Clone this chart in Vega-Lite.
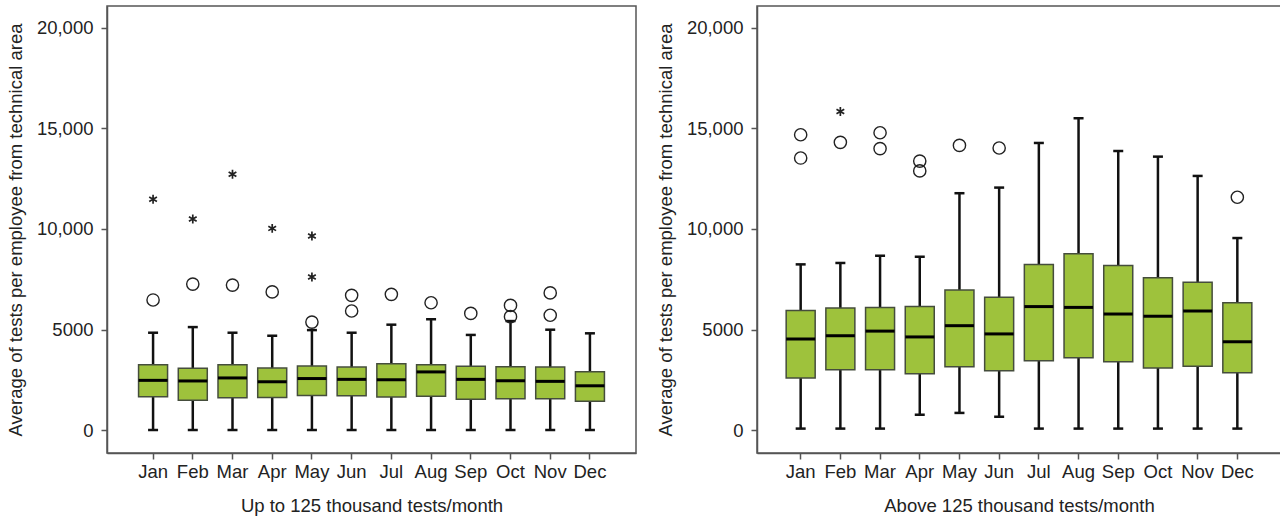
{
  "$schema": "https://vega.github.io/schema/vega-lite/v6.json",
  "padding": {"left": 5, "top": 5, "right": 0, "bottom": 0},
  "spacing": 18,
  "config": {
    "view": {"stroke": "#555", "strokeWidth": 1.5},
    "font": "Liberation Sans",
    "tick": {"opacity": 1},
    "axis": {
      "grid": false, "domainColor": "#555", "domainWidth": 1.5, "tickColor": "#555", "tickWidth": 1.5, "tickSize": 6,
      "labelFont": "Liberation Sans", "labelFontSize": 18.5, "labelColor": "#222",
      "titleFont": "Liberation Sans", "titleFontSize": 18.5, "titleFontWeight": "normal", "titleColor": "#222"
    }
  },
  "datasets": {
    "boxes": [
      {"panel": "low", "month": "Jan", "low": 0, "q1": 1660, "median": 2470, "q3": 3250, "high": 4840},
      {"panel": "low", "month": "Feb", "low": 0, "q1": 1480, "median": 2440, "q3": 3070, "high": 5120},
      {"panel": "low", "month": "Mar", "low": 0, "q1": 1610, "median": 2590, "q3": 3250, "high": 4840},
      {"panel": "low", "month": "Apr", "low": 0, "q1": 1620, "median": 2400, "q3": 3080, "high": 4690},
      {"panel": "low", "month": "May", "low": 0, "q1": 1720, "median": 2560, "q3": 3180, "high": 4970},
      {"panel": "low", "month": "Jun", "low": 0, "q1": 1710, "median": 2520, "q3": 3130, "high": 4840},
      {"panel": "low", "month": "Jul", "low": 0, "q1": 1640, "median": 2500, "q3": 3300, "high": 5240},
      {"panel": "low", "month": "Aug", "low": 0, "q1": 1680, "median": 2890, "q3": 3250, "high": 5510},
      {"panel": "low", "month": "Sep", "low": 0, "q1": 1530, "median": 2520, "q3": 3170, "high": 4730},
      {"panel": "low", "month": "Oct", "low": 0, "q1": 1560, "median": 2450, "q3": 3150, "high": 5420},
      {"panel": "low", "month": "Nov", "low": 0, "q1": 1560, "median": 2420, "q3": 3130, "high": 4990},
      {"panel": "low", "month": "Dec", "low": 0, "q1": 1430, "median": 2200, "q3": 2900, "high": 4810},
      {"panel": "high", "month": "Jan", "low": 70, "q1": 2590, "median": 4530, "q3": 5950, "high": 8240},
      {"panel": "high", "month": "Feb", "low": 70, "q1": 3000, "median": 4690, "q3": 6070, "high": 8310},
      {"panel": "high", "month": "Mar", "low": 70, "q1": 3000, "median": 4920, "q3": 6100, "high": 8670},
      {"panel": "high", "month": "Apr", "low": 760, "q1": 2800, "median": 4630, "q3": 6150, "high": 8620},
      {"panel": "high", "month": "May", "low": 850, "q1": 3150, "median": 5190, "q3": 6970, "high": 11780},
      {"panel": "high", "month": "Jun", "low": 660, "q1": 2950, "median": 4780, "q3": 6600, "high": 12060},
      {"panel": "high", "month": "Jul", "low": 70, "q1": 3450, "median": 6140, "q3": 8230, "high": 14280},
      {"panel": "high", "month": "Aug", "low": 70, "q1": 3600, "median": 6100, "q3": 8770, "high": 15510},
      {"panel": "high", "month": "Sep", "low": 70, "q1": 3400, "median": 5770, "q3": 8190, "high": 13880},
      {"panel": "high", "month": "Oct", "low": 70, "q1": 3080, "median": 5660, "q3": 7580, "high": 13600},
      {"panel": "high", "month": "Nov", "low": 70, "q1": 3170, "median": 5920, "q3": 7350, "high": 12640},
      {"panel": "high", "month": "Dec", "low": 70, "q1": 2850, "median": 4390, "q3": 6330, "high": 9550}
    ],
    "outliers": [
      {"panel": "low", "month": "Jan", "kind": "circle", "value": 6470},
      {"panel": "low", "month": "Feb", "kind": "circle", "value": 7260},
      {"panel": "low", "month": "Mar", "kind": "circle", "value": 7210},
      {"panel": "low", "month": "Apr", "kind": "circle", "value": 6870},
      {"panel": "low", "month": "May", "kind": "circle", "value": 5370},
      {"panel": "low", "month": "Jun", "kind": "circle", "value": 6700},
      {"panel": "low", "month": "Jun", "kind": "circle", "value": 5920},
      {"panel": "low", "month": "Jul", "kind": "circle", "value": 6750},
      {"panel": "low", "month": "Aug", "kind": "circle", "value": 6330},
      {"panel": "low", "month": "Sep", "kind": "circle", "value": 5800},
      {"panel": "low", "month": "Oct", "kind": "circle", "value": 6200},
      {"panel": "low", "month": "Oct", "kind": "circle", "value": 5640},
      {"panel": "low", "month": "Nov", "kind": "circle", "value": 6820},
      {"panel": "low", "month": "Nov", "kind": "circle", "value": 5710},
      {"panel": "low", "month": "Jan", "kind": "star", "value": 11480},
      {"panel": "low", "month": "Feb", "kind": "star", "value": 10500},
      {"panel": "low", "month": "Mar", "kind": "star", "value": 12720},
      {"panel": "low", "month": "Apr", "kind": "star", "value": 10030},
      {"panel": "low", "month": "May", "kind": "star", "value": 7610},
      {"panel": "low", "month": "May", "kind": "star", "value": 9650},
      {"panel": "high", "month": "Jan", "kind": "circle", "value": 14690},
      {"panel": "high", "month": "Jan", "kind": "circle", "value": 13530},
      {"panel": "high", "month": "Feb", "kind": "circle", "value": 14310},
      {"panel": "high", "month": "Mar", "kind": "circle", "value": 14790},
      {"panel": "high", "month": "Mar", "kind": "circle", "value": 14000},
      {"panel": "high", "month": "Apr", "kind": "circle", "value": 13380},
      {"panel": "high", "month": "Apr", "kind": "circle", "value": 12890},
      {"panel": "high", "month": "May", "kind": "circle", "value": 14160},
      {"panel": "high", "month": "Jun", "kind": "circle", "value": 14030},
      {"panel": "high", "month": "Dec", "kind": "circle", "value": 11580},
      {"panel": "high", "month": "Feb", "kind": "star", "value": 15850}
    ]
  },
  "hconcat": [
    {
      "width": 529, "height": 447,
      "encoding": {
        "x": {"field": "month", "type": "ordinal", "sort": ["Jan","Feb","Mar","Apr","May","Jun","Jul","Aug","Sep","Oct","Nov","Dec"],
              "scale": {"paddingInner": 0, "paddingOuter": 0.66},
              "axis": {"title": "Up to 125 thousand tests/month", "labelAngle": 0, "labelPadding": 3, "titlePadding": 16}}
      },
      "layer": [
        {"data": {"name": "boxes"}, "transform": [{"filter": "datum.panel == 'low'"}],
         "mark": {"type": "rule", "color": "#111", "strokeWidth": 2.5},
         "encoding": {"y": {"field": "low", "type": "quantitative", "scale": {"domain": [-1144, 21094], "nice": false, "zero": false},
                            "axis": {"title": "Average of tests per employee from technical area", "values": [0, 5000, 10000, 15000, 20000], "labelExpr": "datum.value >= 10000 ? format(datum.value, ',') : format(datum.value, 'd')", "labelPadding": 8, "titlePadding": 11}},
                      "y2": {"field": "high"}}},
        {"data": {"name": "boxes"}, "transform": [{"filter": "datum.panel == 'low'"}],
         "mark": {"type": "tick", "color": "#111", "size": 10, "thickness": 2.5},
         "encoding": {"y": {"field": "low", "type": "quantitative"}}},
        {"data": {"name": "boxes"}, "transform": [{"filter": "datum.panel == 'low'"}],
         "mark": {"type": "tick", "color": "#111", "size": 10, "thickness": 2.5},
         "encoding": {"y": {"field": "high", "type": "quantitative"}}},
        {"data": {"name": "boxes"}, "transform": [{"filter": "datum.panel == 'low'"}],
         "mark": {"type": "bar", "size": 29, "fill": "#9ec23c", "stroke": "#454d3c", "strokeWidth": 1.5},
         "encoding": {"y": {"field": "q1", "type": "quantitative"}, "y2": {"field": "q3"}}},
        {"data": {"name": "boxes"}, "transform": [{"filter": "datum.panel == 'low'"}],
         "mark": {"type": "tick", "color": "#000", "size": 29, "thickness": 3},
         "encoding": {"y": {"field": "median", "type": "quantitative"}}},
        {"data": {"name": "outliers"}, "transform": [{"filter": "datum.panel == 'low' && datum.kind == 'circle'"}],
         "mark": {"type": "point", "shape": "circle", "filled": false, "stroke": "#222", "strokeWidth": 1.4, "size": 150, "opacity": 1},
         "encoding": {"y": {"field": "value", "type": "quantitative"}}},
        {"data": {"name": "outliers"}, "transform": [{"filter": "datum.panel == 'low' && datum.kind == 'star'"}],
         "mark": {"type": "point", "shape": "M0,-1L0,1M-0.866,-0.5L0.866,0.5M-0.866,0.5L0.866,-0.5", "filled": false, "stroke": "#222", "strokeWidth": 1.7, "size": 80, "opacity": 1},
         "encoding": {"y": {"field": "value", "type": "quantitative"}}}
      ]
    },
    {
      "width": 524, "height": 447,
      "encoding": {
        "x": {"field": "month", "type": "ordinal", "sort": ["Jan","Feb","Mar","Apr","May","Jun","Jul","Aug","Sep","Oct","Nov","Dec"],
              "scale": {"paddingInner": 0, "paddingOuter": 0.6},
              "axis": {"title": "Above 125 thousand tests/month", "labelAngle": 0, "labelPadding": 3, "titlePadding": 16}}
      },
      "layer": [
        {"data": {"name": "boxes"}, "transform": [{"filter": "datum.panel == 'high'"}],
         "mark": {"type": "rule", "color": "#111", "strokeWidth": 2.5},
         "encoding": {"y": {"field": "low", "type": "quantitative", "scale": {"domain": [-1144, 21094], "nice": false, "zero": false},
                            "axis": {"title": "Average of tests per employee from technical area", "values": [0, 5000, 10000, 15000, 20000], "labelExpr": "datum.value >= 10000 ? format(datum.value, ',') : format(datum.value, 'd')", "labelPadding": 8, "titlePadding": 11}},
                      "y2": {"field": "high"}}},
        {"data": {"name": "boxes"}, "transform": [{"filter": "datum.panel == 'high'"}],
         "mark": {"type": "tick", "color": "#111", "size": 10, "thickness": 2.5},
         "encoding": {"y": {"field": "low", "type": "quantitative"}}},
        {"data": {"name": "boxes"}, "transform": [{"filter": "datum.panel == 'high'"}],
         "mark": {"type": "tick", "color": "#111", "size": 10, "thickness": 2.5},
         "encoding": {"y": {"field": "high", "type": "quantitative"}}},
        {"data": {"name": "boxes"}, "transform": [{"filter": "datum.panel == 'high'"}],
         "mark": {"type": "bar", "size": 29, "fill": "#9ec23c", "stroke": "#454d3c", "strokeWidth": 1.5},
         "encoding": {"y": {"field": "q1", "type": "quantitative"}, "y2": {"field": "q3"}}},
        {"data": {"name": "boxes"}, "transform": [{"filter": "datum.panel == 'high'"}],
         "mark": {"type": "tick", "color": "#000", "size": 29, "thickness": 3},
         "encoding": {"y": {"field": "median", "type": "quantitative"}}},
        {"data": {"name": "outliers"}, "transform": [{"filter": "datum.panel == 'high' && datum.kind == 'circle'"}],
         "mark": {"type": "point", "shape": "circle", "filled": false, "stroke": "#222", "strokeWidth": 1.4, "size": 150, "opacity": 1},
         "encoding": {"y": {"field": "value", "type": "quantitative"}}},
        {"data": {"name": "outliers"}, "transform": [{"filter": "datum.panel == 'high' && datum.kind == 'star'"}],
         "mark": {"type": "point", "shape": "M0,-1L0,1M-0.866,-0.5L0.866,0.5M-0.866,0.5L0.866,-0.5", "filled": false, "stroke": "#222", "strokeWidth": 1.7, "size": 80, "opacity": 1},
         "encoding": {"y": {"field": "value", "type": "quantitative"}}}
      ]
    }
  ]
}
